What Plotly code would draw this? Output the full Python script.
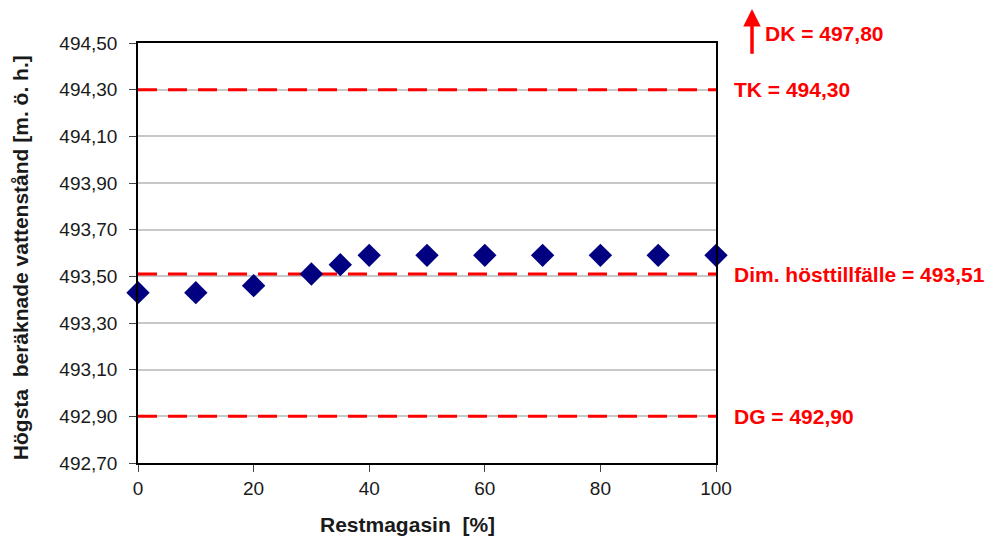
import plotly.graph_objects as go

x_vals = [0, 10, 20, 30, 35, 40, 50, 60, 70, 80, 90, 100]
y_vals = [493.43, 493.43, 493.46, 493.51, 493.55, 493.59, 493.59, 493.59, 493.59, 493.59, 493.59, 493.59]
ref_levels = [494.30, 493.51, 492.90]
ref_labels = ["TK = 494,30", "Dim. hösttillfälle = 493,51", "DG = 492,90"]
dk_label = "DK = 497,80"
x_title = "Restmagasin  [%]"
y_title = "Högsta  beräknade vattenstånd [m. ö. h.]"
y_ticks = [492.70, 492.90, 493.10, 493.30, 493.50, 493.70, 493.90, 494.10, 494.30, 494.50]
y_ticktext = ["492,70", "492,90", "493,10", "493,30", "493,50", "493,70", "493,90", "494,10", "494,30", "494,50"]
x_ticks = [0, 20, 40, 60, 80, 100]

fig = go.Figure()
for lv in ref_levels:
    fig.add_trace(go.Scatter(x=[0, 100], y=[lv, lv], mode="lines",
                             line=dict(color="#FF0000", width=3, dash="19px,11px"),
                             hoverinfo="skip", showlegend=False))
fig.add_trace(go.Scatter(x=x_vals, y=y_vals, mode="markers", cliponaxis=False,
                         marker=dict(symbol="diamond", size=18, color="#000080"),
                         showlegend=False))

for lv, lab in zip(ref_levels, ref_labels):
    fig.add_annotation(x=1, xref="paper", y=lv, yref="y", text="<b>" + lab + "</b>",
                       showarrow=False, xanchor="left", xshift=16,
                       font=dict(color="#FF0000", size=21, family="Liberation Sans"))

fig.add_annotation(x=1.0623, xref="paper", y=1.083, yref="paper", ax=0, ay=47,
                   axref="pixel", ayref="pixel", showarrow=True, arrowhead=2,
                   arrowsize=1, arrowwidth=3.5, arrowcolor="#FF0000", text="")
fig.add_annotation(x=1.0813, xref="paper", y=1.0238, yref="paper", yanchor="middle",
                   text="<b>" + dk_label + "</b>", showarrow=False, xanchor="left",
                   font=dict(color="#FF0000", size=21, family="Liberation Sans"))

fig.add_annotation(x=0.4654, xref="paper", y=-0.1476, yref="paper", yanchor="middle",
                   xanchor="center", text="<b>" + x_title + "</b>", showarrow=False,
                   font=dict(size=21, color="#1a1a1a", family="Liberation Sans"))
fig.add_annotation(x=-0.2042, xref="paper", y=0.490, yref="paper", yanchor="middle",
                   xanchor="center", textangle=-90, text="<b>" + y_title + "</b>",
                   showarrow=False,
                   font=dict(size=21, color="#1a1a1a", family="Liberation Sans"))

fig.update_layout(
    width=991, height=539,
    margin=dict(l=130, r=283, t=35, b=84, autoexpand=False),
    plot_bgcolor="white", paper_bgcolor="white",
    font=dict(family="Liberation Sans", size=19, color="#1a1a1a"),
    xaxis=dict(range=[0, 100], tickvals=x_ticks, ticks="outside", ticklen=7,
               showgrid=False, zeroline=False, showline=True, linecolor="black",
               linewidth=1.5, mirror=True),
    yaxis=dict(range=[492.70, 494.50], tickvals=y_ticks, ticktext=y_ticktext,
               ticks="outside", ticklen=7, ticklabelstandoff=8, showgrid=True,
               gridcolor="#C8C8C8", gridwidth=1.5, zeroline=False, showline=True,
               linecolor="black", linewidth=1.5, mirror=True),
)

fig.write_html("out.html")
